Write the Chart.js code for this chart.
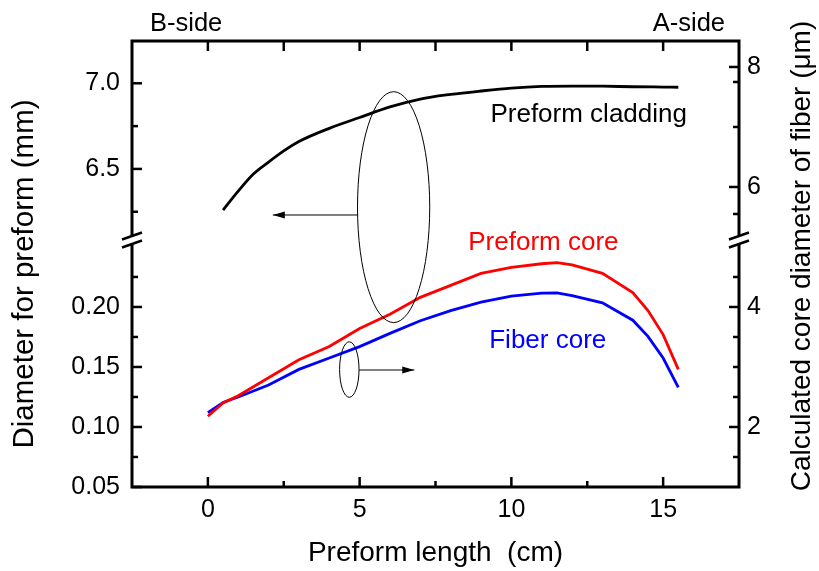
<!DOCTYPE html>
<html>
<head>
<meta charset="utf-8">
<script src="https://cdn.jsdelivr.net/npm/chart.js@4/dist/chart.umd.min.js"></script>
<style>
  html, body { margin: 0; padding: 0; background: #fff; }
  canvas { display: block; }
</style>
</head>
<body>
<canvas id="c" width="819" height="571"></canvas>
<script>
// Position along the preform (cm) for the core measurements
const lengthCm = [0, 0.5, 1, 2, 3, 4, 5, 6, 7, 8, 9, 10, 11, 11.5, 12, 13, 14, 14.5, 15, 15.5];
// Preform core diameter (mm), left lower axis
const preformCoreMm = [0.109, 0.120, 0.126, 0.141, 0.156, 0.167, 0.182, 0.194, 0.208, 0.218, 0.228, 0.233, 0.236, 0.237, 0.235, 0.228, 0.212, 0.197, 0.177, 0.148];
// Calculated fiber core diameter (um), right axis
const fiberCoreUm = [2.24, 2.41, 2.50, 2.70, 2.96, 3.15, 3.34, 3.56, 3.77, 3.94, 4.08, 4.18, 4.23, 4.235, 4.19, 4.07, 3.78, 3.51, 3.15, 2.66];

// Preform cladding diameter (mm), left upper axis
const claddingLengthCm = [0.5, 1, 1.5, 2, 2.5, 3, 4, 5, 6, 7, 8, 9, 10, 11, 12, 13, 14, 15, 15.5];
const claddingMm = [6.26, 6.37, 6.47, 6.54, 6.605, 6.66, 6.737, 6.80, 6.862, 6.908, 6.935, 6.955, 6.972, 6.982, 6.984, 6.983, 6.98, 6.978, 6.977];

// Tick values
const xMajorTicks = [0, 5, 10, 15];
const xMinorTicks = [2.5, 7.5, 12.5];
const xTopTicks = [0, 2.5, 5, 7.5, 10, 12.5, 15];
const claddingMajorTicks = [6.5, 7.0];
const claddingMinorTicks = [6.25, 6.75];
const coreMajorTicks = [0.05, 0.10, 0.15, 0.20];
const coreMinorTicks = [0.075, 0.125, 0.175, 0.225];
const fiberMajorTicks = [2, 4, 6, 8];
const fiberMinorTicks = [1.5, 2.5, 3, 3.5, 4.5, 5.55, 7, 7.75];

const FONT = '"Liberation Sans", Arial, Helvetica, sans-serif';
const tickFont = { family: FONT, size: 25 };

function fixedTicks(values) {
  return scale => { scale.ticks = values.map(v => ({ value: v })); };
}

// Frame, inside ticks, axis breaks, callouts and text
const decorations = {
  id: 'decorations',
  afterDatasetsDraw(chart) {
    const { ctx, chartArea: a, scales } = chart;
    const x = scales.x, yc = scales.yClad, yk = scales.yCore, yf = scales.yFiber;
    const breakY = yk.top;

    ctx.save();
    ctx.strokeStyle = '#000';
    ctx.fillStyle = '#000';

    // frame
    ctx.lineWidth = 3;
    ctx.lineCap = 'square';
    ctx.beginPath();
    ctx.moveTo(a.left, a.top); ctx.lineTo(a.right, a.top);
    ctx.moveTo(a.left, a.bottom); ctx.lineTo(a.right, a.bottom);
    ctx.moveTo(a.left, a.top); ctx.lineTo(a.left, a.bottom);
    ctx.moveTo(a.right, a.top); ctx.lineTo(a.right, a.bottom);
    ctx.stroke();

    // inside ticks
    ctx.lineCap = 'butt';
    ctx.lineWidth = 2.5;
    const seg = (x0, y0, x1, y1) => { ctx.beginPath(); ctx.moveTo(x0, y0); ctx.lineTo(x1, y1); ctx.stroke(); };
    xMajorTicks.forEach(v => { const p = x.getPixelForValue(v); seg(p, a.bottom, p, a.bottom - 10); });
    xMinorTicks.forEach(v => { const p = x.getPixelForValue(v); seg(p, a.bottom, p, a.bottom - 6); });
    xTopTicks.forEach(v => { const p = x.getPixelForValue(v); seg(p, a.top, p, a.top + 10); });
    claddingMajorTicks.forEach(v => { const p = yc.getPixelForValue(v); seg(a.left, p, a.left + 10, p); });
    claddingMinorTicks.forEach(v => { const p = yc.getPixelForValue(v); seg(a.left, p, a.left + 6, p); });
    coreMajorTicks.forEach(v => { const p = yk.getPixelForValue(v); seg(a.left, p, a.left + 10, p); });
    coreMinorTicks.forEach(v => { const p = yk.getPixelForValue(v); seg(a.left, p, a.left + 6, p); });
    fiberMajorTicks.forEach(v => { const p = yf.getPixelForValue(v); seg(a.right, p, a.right - 10, p); });
    fiberMinorTicks.forEach(v => { const p = yf.getPixelForValue(v); seg(a.right, p, a.right - 6, p); });

    // axis breaks
    [a.left, a.right].forEach(cx => {
      ctx.fillStyle = '#fff';
      ctx.fillRect(cx - 3, breakY - 4, 6, 8);
      ctx.lineWidth = 2.5;
      [-4, 4].forEach(d => seg(cx - 10, breakY + d + 3.5, cx + 10, breakY + d - 3.5));
    });
    ctx.fillStyle = '#000';

    // callout ellipses with arrows
    const arrow = (x0, y0, x1, y1) => {
      ctx.lineWidth = 1;
      seg(x0, y0, x1, y1);
      const dir = Math.sign(x1 - x0);
      ctx.beginPath();
      ctx.moveTo(x1, y1);
      ctx.lineTo(x1 - dir * 12, y1 - 3.5);
      ctx.lineTo(x1 - dir * 12, y1 + 3.5);
      ctx.closePath();
      ctx.fill();
    };
    const ellipse = (cxv, rxv, topPx, botPx) => {
      const cx = x.getPixelForValue(cxv);
      const rx = x.getPixelForValue(cxv + rxv) - cx;
      ctx.lineWidth = 1;
      ctx.beginPath();
      ctx.ellipse(cx, (topPx + botPx) / 2, rx, (botPx - topPx) / 2, 0, 0, Math.PI * 2);
      ctx.stroke();
      return { l: cx - rx, r: cx + rx };
    };
    const big = ellipse(6.12, 1.19, yc.getPixelForValue(6.951), yk.getPixelForValue(0.187));
    arrow(big.l, yc.getPixelForValue(6.231), x.getPixelForValue(2.14), yc.getPixelForValue(6.231));
    const small = ellipse(4.66, 0.32, yf.getPixelForValue(3.42), yf.getPixelForValue(2.495));
    arrow(small.r, yf.getPixelForValue(2.95), x.getPixelForValue(6.80), yf.getPixelForValue(2.95));

    // curve labels
    ctx.textBaseline = 'middle';
    ctx.textAlign = 'left';
    ctx.font = `26px ${FONT}`;
    ctx.fillStyle = '#000';
    ctx.fillText('Preform cladding', x.getPixelForValue(9.31), yc.getPixelForValue(6.815));
    ctx.fillStyle = '#ff0000';
    ctx.fillText('Preform core', x.getPixelForValue(8.58), yk.getPixelForValue(0.2533));
    ctx.fillStyle = '#0000ff';
    ctx.fillText('Fiber core', x.getPixelForValue(9.27), yf.getPixelForValue(3.433));

    // end markers above the frame
    ctx.fillStyle = '#000';
    ctx.font = `25.5px ${FONT}`;
    ctx.textAlign = 'left';
    ctx.fillText('B-side', 150, a.top - 17);
    ctx.textAlign = 'right';
    ctx.fillText('A-side', 725, a.top - 17);

    // axis titles
    ctx.font = `28px ${FONT}`;
    ctx.textAlign = 'center';
    ctx.fillText('Preform length  (cm)', (a.left + a.right) / 2, 553);
    ctx.save();
    ctx.translate(802, 256);
    ctx.rotate(-Math.PI / 2);
    ctx.fillText('Calculated core diameter of fiber (\u03bcm)', 0, 0);
    ctx.restore();
    ctx.save();
    ctx.font = `29.5px ${FONT}`;
    ctx.translate(25, 274);
    ctx.rotate(-Math.PI / 2);
    ctx.fillText('Diameter for preform (mm)', 0, 0);
    ctx.restore();

    ctx.restore();
  }
};

const hiddenGrid = { display: false, drawTicks: false };

new Chart(document.getElementById('c'), {
  type: 'line',
  data: {
    datasets: [
      {
        label: 'Preform cladding',
        data: claddingLengthCm.map((v, i) => ({ x: v, y: claddingMm[i] })),
        yAxisID: 'yClad',
        borderColor: '#000000',
        borderWidth: 2.8,
        pointRadius: 0,
        cubicInterpolationMode: 'monotone'
      },
      {
        label: 'Preform core',
        data: lengthCm.map((v, i) => ({ x: v, y: preformCoreMm[i] })),
        yAxisID: 'yCore',
        borderColor: '#ff0000',
        borderWidth: 2.8,
        pointRadius: 0,
        tension: 0
      },
      {
        label: 'Fiber core',
        data: lengthCm.map((v, i) => ({ x: v, y: fiberCoreUm[i] })),
        yAxisID: 'yFiber',
        borderColor: '#0000ff',
        borderWidth: 2.8,
        pointRadius: 0,
        tension: 0
      }
    ]
  },
  options: {
    responsive: false,
    animation: false,
    devicePixelRatio: 1,
    layout: { padding: { top: 41, left: 0, right: 0, bottom: 0 } },
    plugins: { legend: { display: false }, tooltip: { enabled: false } },
    scales: {
      x: {
        type: 'linear', position: 'bottom', min: -2.5, max: 17.5,
        grid: hiddenGrid, border: { display: false },
        ticks: { font: tickFont, color: '#000', padding: 8, autoSkip: false, maxRotation: 0,
                 callback: v => String(v) },
        afterBuildTicks: fixedTicks(xMajorTicks),
        afterFit: s => { s.height = 84; }
      },
      yClad: {
        type: 'linear', position: 'left', stack: 'left', stackWeight: 199, weight: 1,
        min: 6.085, max: 7.247,
        grid: hiddenGrid, border: { display: false },
        ticks: { font: tickFont, color: '#000', padding: 12, autoSkip: false,
                 callback: v => Number(v).toFixed(1) },
        afterBuildTicks: fixedTicks(claddingMajorTicks),
        afterFit: s => { s.width = 132; }
      },
      yCore: {
        type: 'linear', position: 'left', stack: 'left', stackWeight: 247, weight: 0,
        min: 0.05, max: 0.2558,
        grid: hiddenGrid, border: { display: false },
        ticks: { font: tickFont, color: '#000', padding: 12, autoSkip: false,
                 callback: v => Number(v).toFixed(2) },
        afterBuildTicks: fixedTicks(coreMajorTicks),
        afterFit: s => { s.width = 132; }
      },
      yFiber: {
        type: 'linear', position: 'right', min: 1, max: 8.433,
        grid: hiddenGrid, border: { display: false },
        ticks: { font: tickFont, color: '#000', padding: 8, autoSkip: false,
                 callback: v => String(v) },
        afterBuildTicks: fixedTicks(fiberMajorTicks),
        afterFit: s => { s.width = 80; }
      }
    }
  },
  plugins: [decorations]
});
</script>
</body>
</html>
